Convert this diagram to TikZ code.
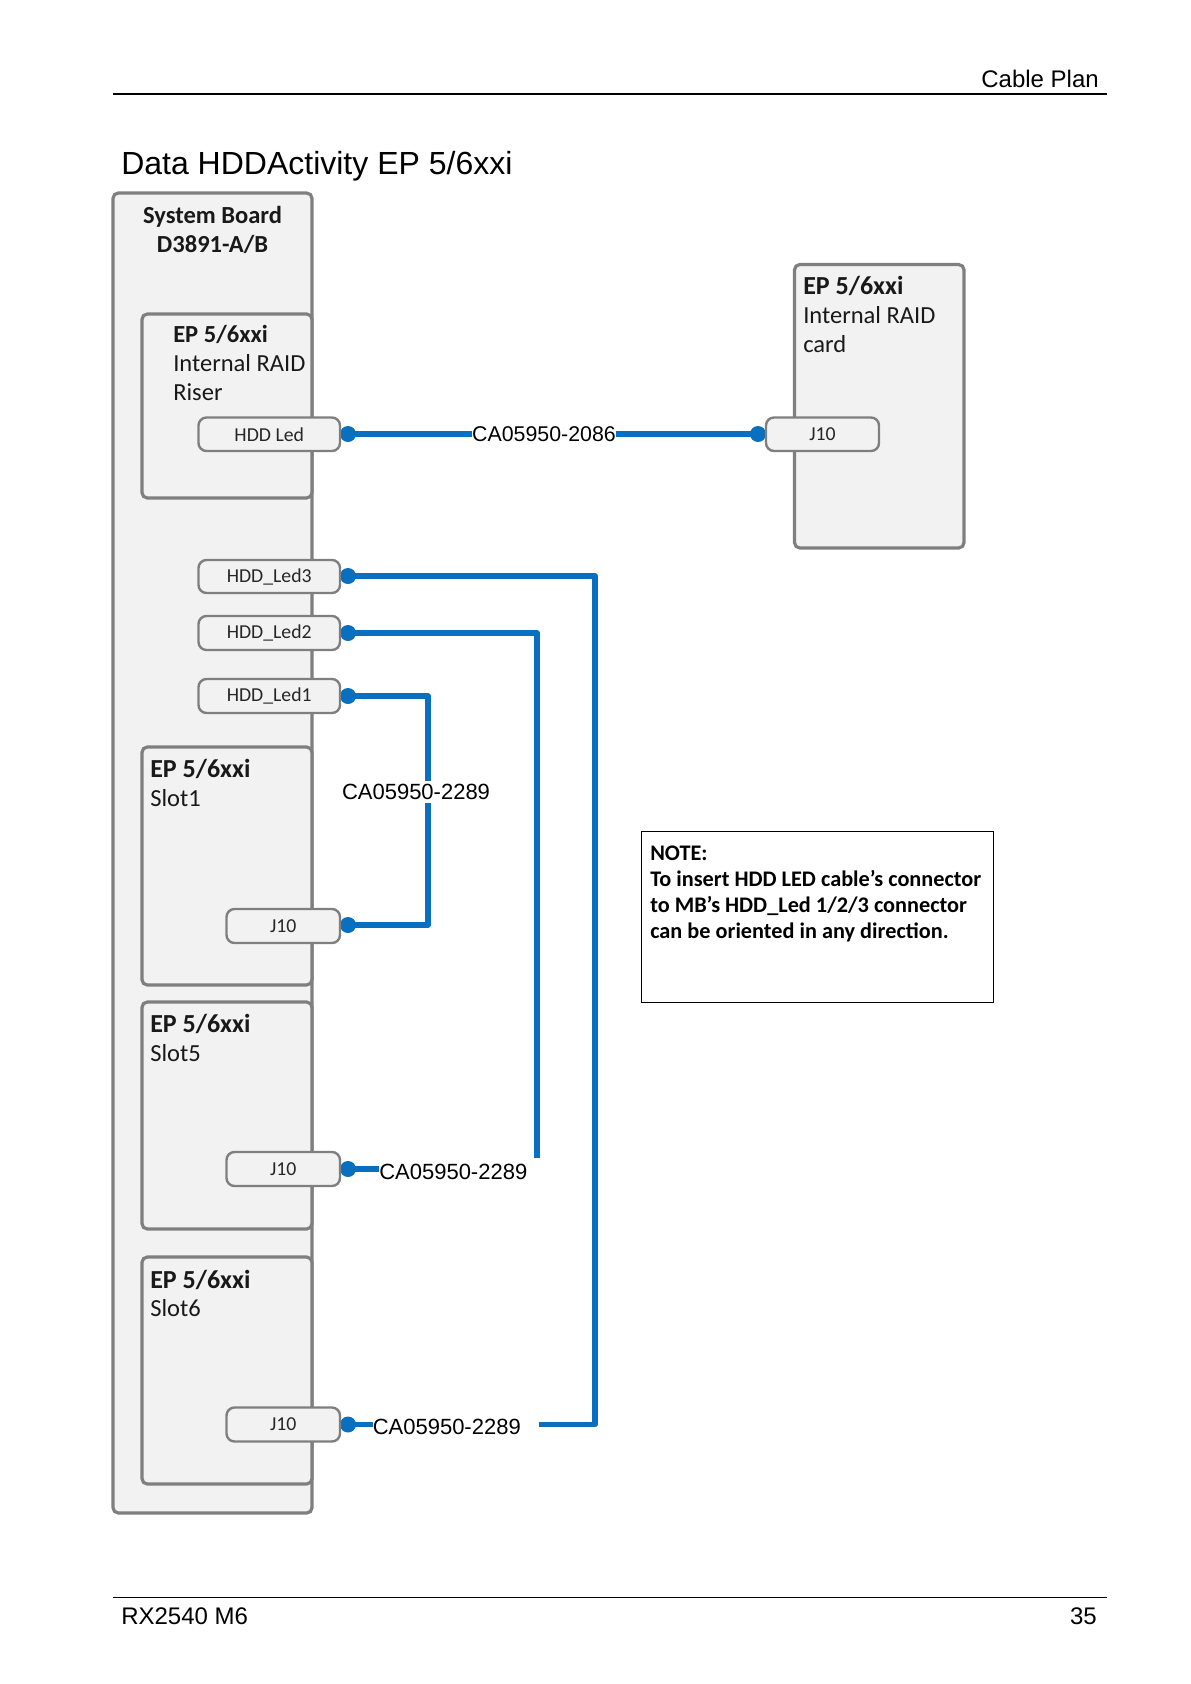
\documentclass[tikz,border=0pt]{standalone}
\usepackage{fontspec}
\setmainfont{Carlito}
\newfontfamily\arialfont{Liberation Sans}
\definecolor{boxgray}{HTML}{F2F2F2}
\definecolor{edgegray}{HTML}{7F7F7F}
\definecolor{cableblue}{HTML}{0A6FBE}
\newcommand{\bighead}[1]{{\fontsize{19.5pt}{21.6pt}\selectfont\textbf{#1}}}
\tikzset{
  x=0.75pt,y=-0.75pt,
  panel/.style={draw=edgegray,line width=2.4pt,fill=boxgray,rounded corners=4pt},
  tab/.style={draw=edgegray,line width=1.8pt,fill=boxgray,rounded corners=6pt,inner sep=0pt,font=\fontsize{14.8pt}{16pt}\selectfont,text=black!85},
  cabledot/.style={circle,fill=cableblue,inner sep=0pt,minimum size=12pt},
  cable/.style={draw=cableblue,line width=4.1pt,line join=round},
  boxtext/.style={anchor=north west,align=left,inner sep=0pt,font=\fontsize{18.4pt}{21.6pt}\selectfont,text=black!90},
  cablelabel/.style={inner sep=0pt,font=\arialfont\fontsize{16.5pt}{20pt}\selectfont,text=black},
  pagetext/.style={inner sep=0pt,font=\arialfont\fontsize{18pt}{20pt}\selectfont,text=black},
}
\newcommand{\tabnode}[6]{% name, x1, y1, x2, y2, text
  \node[tab,minimum width={(#4-#2)*0.75pt},minimum height={(#5-#3)*0.75pt}] (#1) at ({(#2+#4)/2},{(#3+#5)/2}) {#6};}
\newcommand{\panelbox}[5]{\node[panel,inner sep=0pt,minimum width={(#4-#2)*0.75pt},minimum height={(#5-#3)*0.75pt}] (#1) at ({(#2+#4)/2},{(#3+#5)/2}) {};}
\begin{document}
\begin{tikzpicture}
\useasboundingbox (0,0) rectangle (1191,1684);
% header and footer
\coordinate (hl) at (113,94); \coordinate (hr) at (1107,94);
\coordinate (fl) at (113,1597); \coordinate (fr) at (1107,1597);
\draw[line width=1.2pt] (hl) -- (hr);
\draw[line width=0.7pt] (fl) -- (fr);
\node[pagetext,anchor=east] (hdr) at (1099,79) {Cable Plan};
\node[pagetext,anchor=west] (ftl) at (121,1616) {RX2540 M6};
\node[pagetext,anchor=east] (ftr) at (1097,1616) {35};
\node[pagetext,anchor=west,font=\arialfont\fontsize{24pt}{28pt}\selectfont] (title) at (121,166) {Data HDDActivity EP 5/6xxi};
% panels
\panelbox{board}{113}{193}{312}{1513}
\panelbox{riser}{142}{314}{312}{498}
\panelbox{slotone}{142}{747}{312}{985}
\panelbox{slotfive}{142}{1002}{312}{1229}
\panelbox{slotsix}{142}{1257}{312}{1484}
\panelbox{card}{794.5}{264.5}{964}{548}
% panel texts
\node[boxtext,align=center,anchor=north] (boardt) at (212.5,206.5) {\textbf{System Board}\\\textbf{D3891-A/B}};
\node[boxtext] (risert) at (173,325.5) {\textbf{EP 5/6xxi}\\Internal RAID\\Riser};
\node[boxtext] (cardt) at (803,276) {\bighead{EP 5/6xxi}\\Internal RAID\\card};
\node[boxtext] (oneT) at (150,759) {\bighead{EP 5/6xxi}\\Slot1};
\node[boxtext] (fiveT) at (150,1014) {\bighead{EP 5/6xxi}\\Slot5};
\node[boxtext] (sixT) at (150,1269.5) {\bighead{EP 5/6xxi}\\Slot6};
% dots
\node[cabledot] (dA) at (348,434) {};
\node[cabledot] (dB) at (758,434) {};
\node[cabledot] (dThree) at (348,576) {};
\node[cabledot] (dTwo) at (348,633) {};
\node[cabledot] (dOne) at (348,696) {};
\node[cabledot] (dJone) at (348,925) {};
\node[cabledot] (dJfive) at (348,1169) {};
\node[cabledot] (dJsix) at (348,1424.5) {};
% labels (positions used by cables)
\node[cablelabel,fill=white,font=\arialfont\fontsize{16pt}{20pt}\selectfont] (lMain) at (544,434) {CA05950-2086};
\node[cablelabel,anchor=west] (lFive) at (379,1172) {CA05950-2289};
\node[cablelabel,anchor=west] (lSix) at (372.5,1427) {CA05950-2289};
% routing points
\coordinate (cThreeA) at (595,576);
\coordinate (cThreeB) at (595,1424.5);
\coordinate (cThreeEnd) at (539,1424.5);
\coordinate (cTwoA) at (537,633);
\coordinate (cTwoEnd) at (537,1158);
\coordinate (cOneA) at (428,696);
\coordinate (cOneB) at (428,925);
% cables
\draw[cable] (dA.center) -- (lMain.west);
\draw[cable] (lMain.east) -- (dB.center);
\draw[cable] (dThree.center) -- (cThreeA) -- (cThreeB) -- (cThreeEnd);
\draw[cable] (dTwo.center) -- (cTwoA) -- (cTwoEnd);
\draw[cable] (dOne.center) -- (cOneA) -- (cOneB) -- (dJone.center);
\draw[cable] (dJfive.center) -- (lFive.west |- dJfive);
\draw[cable] (dJsix.center) -- (lSix.west |- dJsix);
\node[cablelabel,fill=white,inner ysep=2.5pt] (lOne) at (416,792) {CA05950-2289};
% tabs
\tabnode{tHdd}{198.5}{417.5}{340}{451}{HDD Led}
\tabnode{tCard}{766}{417.5}{879}{451}{J10}
\tabnode{tThree}{198.5}{560}{340}{593}{HDD\_Led3}
\tabnode{tTwo}{198.5}{616}{340}{650}{HDD\_Led2}
\tabnode{tOne}{198.5}{679}{340}{713}{HDD\_Led1}
\tabnode{tJone}{226.5}{909}{340}{943}{J10}
\tabnode{tJfive}{226.5}{1152}{340}{1186}{J10}
\tabnode{tJsix}{226.5}{1407.5}{340}{1441.5}{J10}
% note
\node[draw=black,line width=0.6pt,fill=white,minimum width={352*0.75pt},minimum height={171*0.75pt},inner sep=0pt] (note) at (817,916.5) {};
\node[anchor=north west,align=left,inner sep=0pt,font=\bfseries\fontsize{16.7pt}{19.3pt}\selectfont] (notet) at (650,846) {NOTE:\\To insert HDD LED cable’s connector\\to MB’s HDD\_Led 1/2/3 connector\\can be oriented in any direction.};
\end{tikzpicture}
\end{document}
